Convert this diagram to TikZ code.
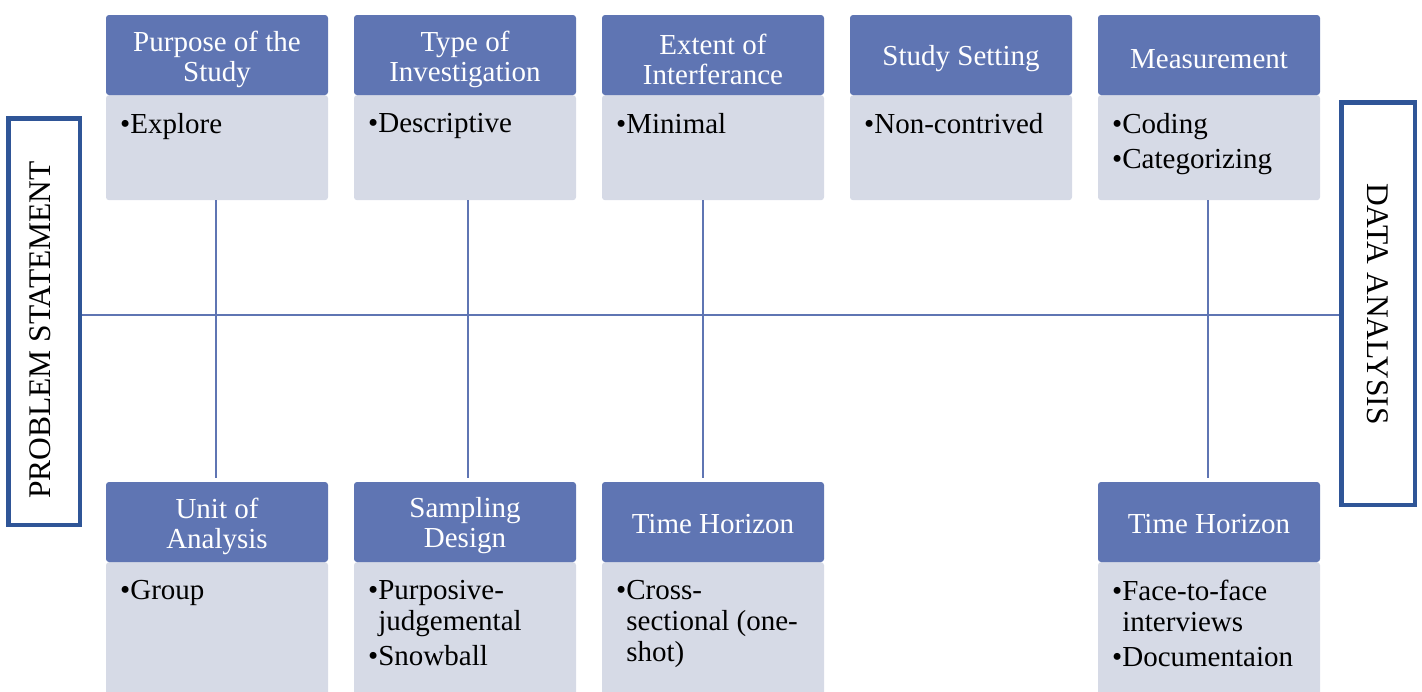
\documentclass[tikz,border=0pt]{standalone}
\usepackage{fontspec}
\setmainfont{Liberation Serif}
\definecolor{hdr}{HTML}{5F75B3}
\definecolor{bdy}{HTML}{D6DAE6}
\definecolor{frame}{HTML}{2F5597}
\begin{document}
\begin{tikzpicture}[x=1pt,y=-1pt,
  hdrbox/.style={fill=hdr, rounded corners=3pt, minimum width=222pt,
    minimum height=80pt, inner sep=0pt},
  hdrtxt/.style={inner sep=0pt, text=white, align=center,
    font=\fontsize{29}{30}\selectfont},
  bdybox/.style={fill=bdy, rounded corners=3pt, minimum width=222pt,
    inner sep=0pt, anchor=north},
  itemtxt/.style={anchor=north west, inner sep=0pt, align=left,
    font=\fontsize{29}{31}\selectfont},
  sidebox/.style={draw=frame, line width=4.5pt, fill=white, inner sep=0pt},
  sidetxt/.style={inner sep=0pt, font=\fontsize{31.5}{34}\selectfont},
  link/.style={draw=hdr, line width=1.5pt}]
\useasboundingbox (0,0) rectangle (1422,691);

% side frames
\node[sidebox, minimum width=71.5pt, minimum height=406.5pt] (ps) at (44,321.5) {};
\node[sidetxt, rotate=90] (pst) at (40,330) {PROBLEM STATEMENT};
\node[sidebox, minimum width=73.5pt, minimum height=402.5pt] (da) at (1378,303.5) {};
\node[sidetxt, rotate=-90] (dat) at (1378,304) {DATA ANALYSIS};

% upper row: body panels, then headers
\node[bdybox, minimum height=105pt] (b1) at (217,95) {};
\node[bdybox, minimum height=105pt] (b2) at (465,95) {};
\node[bdybox, minimum height=105pt] (b3) at (713,95) {};
\node[bdybox, minimum height=105pt] (b4) at (961,95) {};
\node[bdybox, minimum height=105pt] (b5) at (1209,95) {};
\node[hdrbox] (h1) at (217,55) {};
\node[hdrbox] (h2) at (465,55) {};
\node[hdrbox] (h3) at (713,55) {};
\node[hdrbox] (h4) at (961,55) {};
\node[hdrbox] (h5) at (1209,55) {};
\node[hdrtxt] (h1t) at ([yshift=-4pt]h1.center) {Purpose of the\\Study};
\node[hdrtxt] (h2t) at ([yshift=-4pt]h2.center) {Type of\\Investigation};
\node[hdrtxt] (h3t) at ([yshift=-4pt]h3.center) {Extent of\\Interferance};
\node[hdrtxt] (h4t) at ([yshift=-4pt]h4.center) {Study Setting};
\node[hdrtxt] (h5t) at ([yshift=-4pt]h5.center) {Measurement};

\node[itemtxt] (i1) at (120,113) {•Explore};
\node[itemtxt] (i2) at (368,113) {•Descriptive};
\node[itemtxt] (i3) at (616,113) {•Minimal};
\node[itemtxt] (i4) at (864,113) {•Non-contrived};
\node[itemtxt] (i5) at (1112,113) {•Coding\\[4pt]•Categorizing};

% lower row
\node[bdybox, minimum height=134pt] (c1) at (217,562) {};
\node[bdybox, minimum height=134pt] (c2) at (465,562) {};
\node[bdybox, minimum height=134pt] (c3) at (713,562) {};
\node[bdybox, minimum height=134pt] (c5) at (1209,562) {};
\node[hdrbox] (u1) at (217,522) {};
\node[hdrbox] (u2) at (465,522) {};
\node[hdrbox] (u3) at (713,522) {};
\node[hdrbox] (u5) at (1209,522) {};
\node[hdrtxt] (u1t) at ([yshift=-4pt]u1.center) {Unit of\\Analysis};
\node[hdrtxt] (u2t) at ([yshift=-4pt]u2.center) {Sampling\\Design};
\node[hdrtxt] (u3t) at ([yshift=-2pt]u3.center) {Time Horizon};
\node[hdrtxt] (u5t) at ([yshift=-2pt]u5.center) {Time Horizon};

\node[itemtxt] (j1) at (120,580) {•Group};
\node[itemtxt] (j2) at (368,580) {•Purposive-\\\hphantom{•}judgemental\\[4pt]•Snowball};
\node[itemtxt] (j3) at (616,580) {•Cross-\\\hphantom{•}sectional (one-\\\hphantom{•}shot)};
\node[itemtxt] (j5) at (1112,580) {•Face-to-face\\\hphantom{•}interviews\\[4pt]•Documentaion};

% spine and branches
\coordinate (sp) at (700,315);
\draw[link] (ps.east |- sp) -- (da.west |- sp);
\draw[link, shorten >=4pt] ([xshift=-1pt]b1.south) -- ([xshift=-1pt]u1.north);
\draw[link, shorten >=4pt] ([xshift=3pt]b2.south) -- ([xshift=3pt]u2.north);
\draw[link, shorten >=4pt] ([xshift=-10pt]b3.south) -- ([xshift=-10pt]u3.north);
\draw[link, shorten >=4pt] ([xshift=-1pt]b5.south) -- ([xshift=-1pt]u5.north);
\end{tikzpicture}
\end{document}
